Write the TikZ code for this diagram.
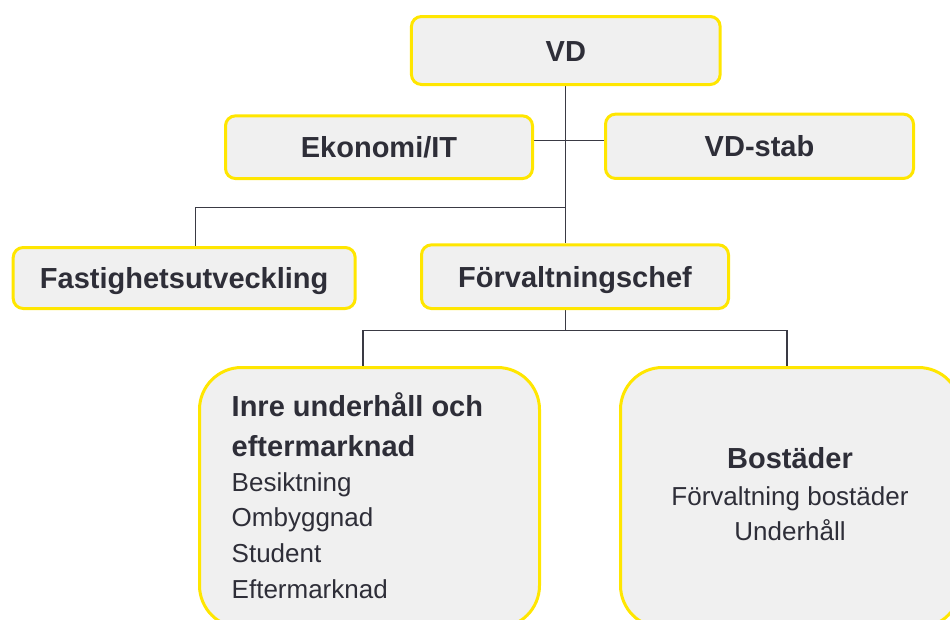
\documentclass[tikz,border=0pt]{standalone}
\usepackage{fontspec}
\setmainfont{Liberation Sans}
\usetikzlibrary{backgrounds}
\definecolor{eyyellow}{HTML}{FFE600}
\definecolor{boxfill}{HTML}{F0F0F0}
\definecolor{txtcol}{HTML}{2E2E38}
\definecolor{linecol}{HTML}{3A3A44}
\begin{document}
\begin{tikzpicture}[x=1pt,y=-1pt,
  orgbox/.style={draw=eyyellow, line width=3pt, fill=boxfill, rounded corners=10pt,
    text=txtcol, font=\bfseries\fontsize{29}{34}\selectfont,
    text height=21pt, text depth=0pt, inner sep=0pt},
  bigbox/.style={draw=eyyellow, line width=3pt, fill=boxfill, rounded corners=42pt, inner sep=0pt},
  head/.style={text=txtcol, font=\bfseries\fontsize{29}{34}\selectfont, inner sep=0pt},
  item/.style={text=txtcol, font=\fontsize{26}{30}\selectfont, inner sep=0pt},
  conn/.style={draw=linecol, line width=1.3pt}]
\useasboundingbox (0,0) rectangle (950,619);
\clip (0,0) rectangle (950,619);

\node[orgbox, minimum width=308.7pt, minimum height=68pt] (vd) at (565.8,50.5) {VD};
\node[orgbox, minimum width=307pt, minimum height=62.7pt] (ek) at (379,147.2) {Ekonomi/IT};
\node[orgbox, minimum width=308pt, minimum height=64.3pt] (stab) at (759.5,146.3) {VD-stab};
\node[orgbox, minimum width=342pt, minimum height=61pt] (fast) at (184.2,278) {Fastighetsutveckling};
\node[orgbox, minimum width=307pt, minimum height=63.7pt] (forv) at (575,276.7) {Förvaltningschef};

\node[bigbox, minimum width=340pt, minimum height=260pt] (inre) at (369.5,497.5) {};
\node[bigbox, minimum width=340pt, minimum height=260pt] (bost) at (790.5,497.5) {};

\node[head, anchor=base west] (i1) at (231.5,416.7) {Inre underhåll och};
\node[head, anchor=base west] (i2) at (231.5,456) {eftermarknad};
\node[item, anchor=base west] (i3) at (231.5,491.7) {Besiktning};
\node[item, anchor=base west] (i4) at (231.5,526.7) {Ombyggnad};
\node[item, anchor=base west] (i5) at (231.5,562) {Student};
\node[item, anchor=base west] (i6) at (231.5,598) {Eftermarknad};

\node[head, anchor=base] (b1) at (790,468) {Bostäder};
\node[item, anchor=base] (b2) at (790,505) {Förvaltning bostäder};
\node[item, anchor=base] (b3) at (790,540) {Underhåll};

\coordinate (ey) at (0,140.7);
\coordinate (fy) at (0,207.7);
\coordinate (fk) at (195.7,207.7);
\coordinate (by) at (0,330.7);
\coordinate (bl) at (363,330.7);
\coordinate (br) at (787,330.7);

\begin{scope}[on background layer]
\draw[conn] (vd.south) -- (vd.south |- forv.north);
\draw[conn] (ek.east |- ey) -- (stab.west |- ey);
\draw[conn] (vd.south |- fy) -- (fk) -- (fk |- fast.north);
\draw[conn] (vd.south |- forv.south) -- (vd.south |- by);
\draw[conn] (bl |- inre.north) -- (bl) -- (br) -- (br |- bost.north);
\end{scope}
\end{tikzpicture}
\end{document}
